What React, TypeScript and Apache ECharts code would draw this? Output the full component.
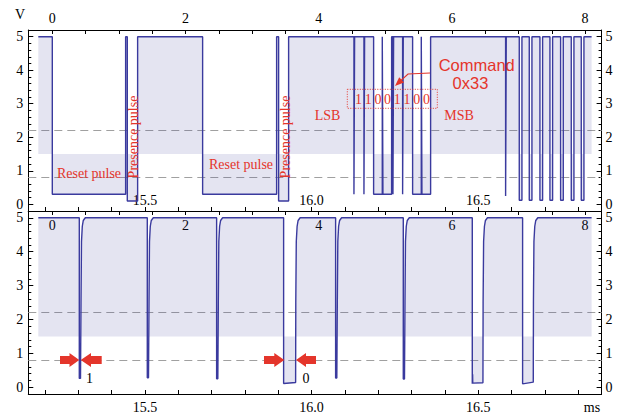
import React, { useEffect, useRef } from "react";
import * as echarts from "echarts";

// ---- axis ticks / labels ----
const msTicks = [15.2, 15.3, 15.4, 15.5, 15.6, 15.7, 15.8, 15.9, 16.0, 16.1, 16.2, 16.3, 16.4, 16.5, 16.6, 16.7, 16.8];
const msLabels = [15.5, 16.0, 16.5];
const bitTicks = [0, 0.5, 1, 1.5, 2, 2.5, 3, 3.5, 4, 4.5, 5, 5.5, 6, 6.5, 7, 7.5, 8];
const bitLabels = [0, 2, 4, 6, 8];
const vMajor = [0, 1, 2, 3, 4, 5];
const vMinor = [0.2, 0.4, 0.6, 0.8, 1.2, 1.4, 1.6, 1.8, 2.2, 2.4, 2.6, 2.8, 3.2, 3.4, 3.6, 3.8, 4.2, 4.4, 4.6, 4.8];
const thresholds = [2.2, 0.8];
const fillLevel = 1.5;
const commandBits = ["1", "1", "0", "0", "1", "1", "0", "0"];

// ---- signals [ms, V] ----
const topSignal: number[][] = [
  [15.18, 5], [15.222, 5], [15.222, 0.3], [15.442, 0.3], [15.442, 5], [15.447, 5], [15.447, 0.1], [15.478, 0.1], [15.478, 5],
  [15.673, 5], [15.673, 0.3], [15.895, 0.3], [15.895, 5], [15.901, 5], [15.901, 0.1], [15.931, 0.1], [15.931, 5],
  [16.127, 5], [16.127, 0.3], [16.129, 0.3], [16.129, 5],
  [16.157, 5], [16.157, 0.3], [16.159, 0.3], [16.159, 5],
  [16.186, 5], [16.186, 0.3], [16.212, 0.3], [16.212, 5], [16.214, 5], [16.214, 0.3], [16.24, 0.3], [16.24, 5],
  [16.244, 5], [16.244, 0.3], [16.246, 0.3], [16.246, 5],
  [16.273, 5], [16.273, 0.3], [16.275, 0.3], [16.275, 5],
  [16.303, 5], [16.303, 0.3], [16.329, 0.3], [16.329, 5], [16.331, 5], [16.331, 0.3], [16.357, 0.3], [16.357, 5],
  [16.582, 5], [16.582, 0.25], [16.584, 0.25], [16.584, 5],
  [16.623, 5], [16.623, 0.12], [16.631, 0.12], [16.631, 5],
  [16.653, 5], [16.653, 0.12], [16.661, 0.12], [16.661, 5],
  [16.685, 5], [16.685, 0.12], [16.693, 0.12], [16.693, 5],
  [16.715, 5], [16.715, 0.12], [16.723, 0.12], [16.723, 5],
  [16.747, 5], [16.747, 0.12], [16.755, 0.12], [16.755, 5],
  [16.779, 5], [16.779, 0.12], [16.787, 0.12], [16.787, 5],
  [16.809, 5], [16.809, 0.12], [16.817, 0.12], [16.817, 5],
  [16.84, 5],
];

const bottomSignal: number[][] = [
  [15.18, 5],
  [15.303, 5], [15.303, 0.26], [15.3066, 0.26], [15.3081, 2.5], [15.3096, 4.3], [15.312, 4.75], [15.315, 4.92], [15.321, 5],
  [15.507, 5], [15.507, 0.28], [15.5106, 0.28], [15.5121, 2.5], [15.5136, 4.3], [15.516, 4.75], [15.519, 4.92], [15.525, 5],
  [15.715, 5], [15.715, 0.25], [15.7186, 0.25], [15.7201, 2.5], [15.7216, 4.3], [15.724, 4.75], [15.727, 4.92], [15.733, 5],
  [15.916, 5], [15.916, 0.11], [15.952, 0.14], [15.9525, 2.5], [15.954, 4.3], [15.9565, 4.75], [15.9595, 4.92], [15.9655, 5],
  [16.072, 5], [16.072, 0.27], [16.0756, 0.27], [16.0771, 2.5], [16.0786, 4.3], [16.081, 4.75], [16.084, 4.92], [16.09, 5],
  [16.275, 5], [16.275, 0.24], [16.2786, 0.24], [16.2801, 2.5], [16.2816, 4.3], [16.284, 4.75], [16.287, 4.92], [16.293, 5],
  [16.482, 5], [16.482, 0.1], [16.483, 0.38], [16.4835, 0.12], [16.514, 0.13], [16.5145, 2.5], [16.516, 4.3], [16.5185, 4.75], [16.5215, 4.92], [16.5275, 5],
  [16.633, 5], [16.633, 0.1], [16.665, 0.15], [16.6655, 2.5], [16.667, 4.3], [16.6695, 4.75], [16.6725, 4.92], [16.6785, 5],
  [16.84, 5],
];

const MS_MIN = 15.15;
const MS_MAX = 16.87;
const BIT_MIN = -0.36;
const BIT_MAX = 8.248;

const SERIF = '"Liberation Serif", "Times New Roman", serif';
const SANS = '"Liberation Sans", Arial, sans-serif';
const LINE = "#3a3a9e";
const FILL = "rgba(61,61,153,0.2)";
const RED = "#e4352b";

function xAxisDef(gridIndex: number, kind: "ms" | "bit", position: "top" | "bottom", inside: boolean, margin: number) {
  const isMs = kind === "ms";
  return {
    gridIndex,
    type: "value",
    position,
    min: isMs ? MS_MIN : BIT_MIN,
    max: isMs ? MS_MAX : BIT_MAX,
    axisLine: { show: true, onZero: false, lineStyle: { color: "#000", width: 1 } },
    axisTick: { show: true, inside: true, length: 4, customValues: isMs ? msTicks : bitTicks, lineStyle: { color: "#000", width: 1 } },
    axisLabel: {
      show: true,
      inside,
      margin,
      customValues: isMs ? msLabels : bitLabels,
      formatter: (v: number) => (isMs ? v.toFixed(1) : String(v)),
      fontFamily: SERIF,
      fontSize: 14,
      color: "#000",
    },
    splitLine: { show: false },
  };
}

function yAxisDef(gridIndex: number, position: "left" | "right", major: boolean) {
  return {
    gridIndex,
    type: "value",
    position,
    min: -0.2,
    max: 5.2,
    axisLine: { show: major, onZero: false, lineStyle: { color: "#000", width: 1 } },
    axisTick: { show: true, inside: true, length: major ? 5 : 3, customValues: major ? vMajor : vMinor, lineStyle: { color: "#000", width: 1 } },
    axisLabel: {
      show: major,
      customValues: vMajor,
      margin: position === "left" ? 5 : 4,
      fontFamily: SERIF,
      fontSize: 14,
      color: "#000",
    },
    splitLine: { show: false },
  };
}

function seriesDef(xIdx: number, yIdx: number, data: number[][]) {
  return {
    type: "line",
    xAxisIndex: xIdx,
    yAxisIndex: yIdx,
    data,
    symbol: "none",
    showSymbol: false,
    lineStyle: { color: LINE, width: 1.4 },
    areaStyle: { origin: fillLevel, color: FILL },
    z: 3,
    markLine: {
      silent: true,
      symbol: "none",
      label: { show: false },
      lineStyle: { color: "#a0a0a0", type: [8, 5], width: 1.1 },
      data: thresholds.map((v) => ({ yAxis: v })),
      z: 2,
    },
  };
}

function txt(x: number, y: number, text: string, font: string, fill: string, rotation = 0) {
  return {
    type: "text",
    x,
    y,
    rotation,
    z: 10,
    style: {
      text,
      x: 0,
      y: 0,
      font,
      fill,
      align: "center",
      verticalAlign: "middle",
      textAlign: "center",
      textVerticalAlign: "middle",
    },
  };
}

function blockArrow(tail: number, base: number, tip: number, cy: number) {
  return {
    type: "polygon",
    z: 10,
    shape: {
      points: [
        [tail, cy - 4], [base, cy - 4], [base, cy - 7], [tip, cy], [base, cy + 7], [base, cy + 4], [tail, cy + 4],
      ],
    },
    style: { fill: RED },
  };
}

export default function App() {
  const ref = useRef<HTMLDivElement>(null);
  useEffect(() => {
    if (!ref.current) return;
    const chart = echarts.init(ref.current, undefined, { renderer: "svg" });
    const serif14 = `14px ${SERIF}`;
    const sans16 = `16.5px ${SANS}`;
    const graphics: any[] = [
      txt(20, 14, "V", serif14, "#000"),
      txt(592, 407, "ms", serif14, "#000"),
      txt(89, 173, "Reset pulse", serif14, RED),
      txt(241, 164, "Reset pulse", serif14, RED),
      txt(133, 137, "Presence pulse", serif14, RED, Math.PI / 2),
      txt(285, 137, "Presence pulse", serif14, RED, Math.PI / 2),
      txt(327.5, 115, "LSB", serif14, RED),
      txt(459, 115, "MSB", serif14, RED),
      txt(476.7, 64.5, "Command", sans16, RED),
      txt(470.5, 83, "0x33", sans16, RED),
      {
        type: "rect",
        z: 10,
        shape: { x: 347.3, y: 89.3, width: 90, height: 19 },
        style: { fill: "none", stroke: RED, lineWidth: 1, lineDash: [1, 1.5] },
      },
      {
        type: "polyline",
        z: 10,
        shape: { points: [[430, 73], [408, 74], [400, 81.4]] },
        style: { fill: "none", stroke: RED, lineWidth: 1.2 },
      },
      {
        type: "polygon",
        z: 10,
        shape: { points: [[395, 86], [404, 82.5], [399.2, 77.3]] },
        style: { fill: RED },
      },
      blockArrow(60, 69.5, 79.3, 360),
      blockArrow(101.7, 91, 80.7, 360),
      blockArrow(264, 274.3, 284.3, 360),
      blockArrow(316, 306, 296, 360),
      txt(89.5, 378, "1", serif14, "#000"),
      txt(306, 378, "0", serif14, "#000"),
    ];
    commandBits.forEach((b, i) => {
      graphics.push(txt(358.5 + i * 9.7, 99, b, serif14, RED));
    });

    chart.setOption({
      animation: false,
      backgroundColor: "#fff",
      textStyle: { fontFamily: SERIF },
      grid: [
        { left: 28.3, width: 573.3, top: 30, height: 181, containLabel: false },
        { left: 28.3, width: 573.3, top: 211, height: 183, containLabel: false },
      ],
      xAxis: [
        xAxisDef(0, "ms", "bottom", true, 4),
        xAxisDef(0, "bit", "top", false, 5),
        xAxisDef(1, "ms", "bottom", false, 6),
        xAxisDef(1, "bit", "top", true, 7),
      ],
      yAxis: [
        yAxisDef(0, "left", true),
        yAxisDef(0, "left", false),
        yAxisDef(0, "right", true),
        yAxisDef(0, "right", false),
        yAxisDef(1, "left", true),
        yAxisDef(1, "left", false),
        yAxisDef(1, "right", true),
        yAxisDef(1, "right", false),
      ],
      series: [seriesDef(0, 0, topSignal), seriesDef(2, 4, bottomSignal)],
      graphic: { elements: graphics },
    });
    return () => chart.dispose();
  }, []);
  return (
    <div
      ref={ref}
      style={{ position: "absolute", left: 0, top: 0, width: 622, height: 414, background: "#fff" }}
    />
  );
}
